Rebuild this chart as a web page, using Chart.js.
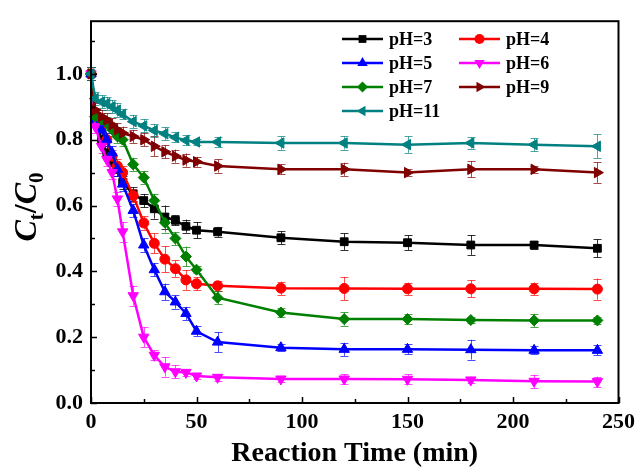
<!DOCTYPE html>
<html><head><meta charset="utf-8">
<script src="https://cdn.jsdelivr.net/npm/chart.js@4.4.0/dist/chart.umd.min.js"></script>
<style>html,body{margin:0;padding:0;background:#fff;} canvas{display:block;}</style>
</head><body>
<canvas id="c" width="641" height="468"></canvas>
<script>
// ---- data ----
const times = [0, 2, 5, 7.5, 10, 12.5, 15, 20, 25, 30, 35, 40, 45, 50, 60, 90, 120, 150, 180, 210, 240];
const seriesNames = ['pH=3', 'pH=4', 'pH=5', 'pH=6', 'pH=7', 'pH=9', 'pH=11'];
const pH3  = [1.0, 0.87, 0.80, 0.76, 0.73, 0.71, 0.67, 0.635, 0.615, 0.59, 0.565, 0.555, 0.537, 0.525, 0.52, 0.502, 0.49, 0.487, 0.48, 0.48, 0.47];
const pH4  = [1.0, 0.87, 0.84, 0.80, 0.75, 0.72, 0.70, 0.63, 0.547, 0.485, 0.437, 0.408, 0.374, 0.362, 0.356, 0.349, 0.348, 0.347, 0.347, 0.347, 0.346];
const pH5  = [1.0, 0.86, 0.83, 0.80, 0.76, 0.71, 0.665, 0.585, 0.48, 0.405, 0.338, 0.307, 0.272, 0.218, 0.185, 0.168, 0.163, 0.163, 0.162, 0.16, 0.16];
const pH6  = [1.0, 0.84, 0.78, 0.74, 0.70, 0.62, 0.52, 0.326, 0.20, 0.145, 0.11, 0.095, 0.093, 0.082, 0.078, 0.073, 0.073, 0.072, 0.07, 0.066, 0.065];
const pH7  = [1.0, 0.87, 0.86, 0.85, 0.83, 0.81, 0.80, 0.725, 0.685, 0.615, 0.548, 0.50, 0.445, 0.405, 0.32, 0.275, 0.255, 0.255, 0.252, 0.251, 0.251];
const pH9  = [1.0, 0.89, 0.87, 0.86, 0.845, 0.83, 0.82, 0.81, 0.80, 0.78, 0.763, 0.75, 0.738, 0.733, 0.72, 0.71, 0.71, 0.70, 0.71, 0.71, 0.70];
const pH11 = [1.0, 0.925, 0.915, 0.91, 0.90, 0.89, 0.877, 0.855, 0.842, 0.828, 0.818, 0.807, 0.798, 0.793, 0.793, 0.79, 0.79, 0.785, 0.79, 0.785, 0.78];
// error bars (±)
const err3  = [0.02, 0.02, 0.02, 0.02, 0.02, 0.02, 0.02, 0.02, 0.02, 0.03, 0.035, 0.015, 0.02, 0.025, 0.015, 0.02, 0.025, 0.022, 0.03, 0.012, 0.027];
const err4  = [0.02, 0.02, 0.02, 0.02, 0.02, 0.02, 0.02, 0.02, 0.02, 0.03, 0.04, 0.025, 0.03, 0.02, 0.015, 0.02, 0.035, 0.019, 0.026, 0.019, 0.032];
const err5  = [0.02, 0.02, 0.02, 0.02, 0.02, 0.02, 0.02, 0.02, 0.02, 0.02, 0.025, 0.02, 0.02, 0.015, 0.03, 0.01, 0.02, 0.015, 0.03, 0.012, 0.015];
const err6  = [0.02, 0.02, 0.02, 0.02, 0.02, 0.02, 0.03, 0.03, 0.03, 0.015, 0.03, 0.02, 0.01, 0.01, 0.01, 0.01, 0.015, 0.015, 0.01, 0.02, 0.015];
const err7  = [0.02, 0.02, 0.02, 0.02, 0.02, 0.02, 0.02, 0.02, 0.02, 0.02, 0.03, 0.02, 0.03, 0.01, 0.02, 0.015, 0.02, 0.015, 0.01, 0.02, 0.01];
const err9  = [0.02, 0.02, 0.02, 0.02, 0.02, 0.02, 0.02, 0.02, 0.02, 0.03, 0.02, 0.02, 0.02, 0.015, 0.02, 0.015, 0.02, 0.01, 0.024, 0.01, 0.031];
const err11 = [0.02, 0.02, 0.02, 0.02, 0.02, 0.02, 0.015, 0.02, 0.02, 0.02, 0.02, 0.015, 0.015, 0.01, 0.015, 0.02, 0.02, 0.025, 0.017, 0.02, 0.036];
const xTicks = [0, 50, 100, 150, 200, 250];
const yTicks = [0.0, 0.2, 0.4, 0.6, 0.8, 1.0];

const seriesValues = [pH3, pH4, pH5, pH6, pH7, pH9, pH11];
const seriesErrors = [err3, err4, err5, err6, err7, err9, err11];
const colors = ['#000000', '#FF0000', '#0000FF', '#FF00FF', '#008000', '#800000', '#008080'];
const errColors = ['rgba(0,0,0,0.8)', 'rgba(255,0,0,0.7)', 'rgba(0,0,255,0.7)', 'rgba(255,0,255,0.7)', 'rgba(0,128,0,0.7)', 'rgba(128,0,0,0.7)', 'rgba(0,128,128,0.7)'];
const styles = [
  {s: 'rect', r: 0, rad: 5.5},
  {s: 'circle', r: 0, rad: 5},
  {s: 'triangle', r: 0, rad: 6},
  {s: 'triangle', r: 180, rad: 6},
  {s: 'rectRot', r: 0, rad: 5.5},
  {s: 'triangle', r: 90, rad: 6},
  {s: 'triangle', r: 270, rad: 6}
];

const FONT = '"Liberation Serif", "Times New Roman", serif';

const datasets = seriesNames.map((n, i) => ({
  label: n,
  data: times.map((t, k) => ({x: t, y: seriesValues[i][k]})),
  borderColor: colors[i],
  backgroundColor: colors[i],
  borderWidth: 2.5,
  pointStyle: styles[i].s,
  rotation: styles[i].r,
  pointRadius: styles[i].rad,
  pointBorderWidth: 1,
  tension: 0,
  clip: false,
  order: 7 - i
}));

function markerPath(ctx, style, rot, x, y, r) {
  ctx.save();
  ctx.translate(x, y);
  ctx.rotate(rot * Math.PI / 180);
  ctx.beginPath();
  if (style === 'circle') {
    ctx.arc(0, 0, r, 0, Math.PI * 2);
  } else if (style === 'rect') {
    const s = Math.SQRT1_2 * r;
    ctx.rect(-s, -s, 2 * s, 2 * s);
  } else if (style === 'rectRot') {
    ctx.moveTo(0, -r); ctx.lineTo(r, 0); ctx.lineTo(0, r); ctx.lineTo(-r, 0); ctx.closePath();
  } else {
    const w = r * Math.sqrt(3);
    ctx.moveTo(0, -r); ctx.lineTo(w / 2, r / 2); ctx.lineTo(-w / 2, r / 2); ctx.closePath();
  }
  ctx.fill();
  ctx.restore();
}

const decor = {
  id: 'decor',
  beforeDatasetsDraw(chart) {
    const {ctx} = chart;
    const xs = chart.scales.x, ys = chart.scales.y;
    ctx.save();
    ctx.lineWidth = 1;
    seriesValues.forEach((vals, i) => {
      ctx.strokeStyle = errColors[i];
      vals.forEach((v, k) => {
        const x = Math.round(xs.getPixelForValue(times[k])) + 0.5;
        const y1 = ys.getPixelForValue(v + seriesErrors[i][k]);
        const y2 = ys.getPixelForValue(v - seriesErrors[i][k]);
        ctx.beginPath();
        ctx.moveTo(x, y1); ctx.lineTo(x, y2);
        ctx.moveTo(x - 4, Math.round(y1) + 0.5); ctx.lineTo(x + 4, Math.round(y1) + 0.5);
        ctx.moveTo(x - 4, Math.round(y2) + 0.5); ctx.lineTo(x + 4, Math.round(y2) + 0.5);
        ctx.stroke();
      });
    });
    ctx.restore();
  },
  afterDraw(chart) {
    const {ctx, chartArea: a} = chart;
    const xs = chart.scales.x, ys = chart.scales.y;
    ctx.save();
    // frame
    ctx.strokeStyle = '#000';
    ctx.lineWidth = 2;
    ctx.strokeRect(a.left, a.top, a.right - a.left, a.bottom - a.top);
    // inward ticks
    ctx.lineWidth = 1.5;
    ctx.beginPath();
    for (let t = 0; t <= 250; t += 25) {
      const x = Math.round(xs.getPixelForValue(t)) + 0.5;
      const len = (t % 50 === 0) ? 6 : 4;
      ctx.moveTo(x, a.bottom); ctx.lineTo(x, a.bottom - len);
    }
    for (let k = 0; k <= 11; k++) {
      const v = k / 10;
      const y = Math.round(ys.getPixelForValue(v)) + 0.5;
      const len = (k % 2 === 0) ? 6 : 4;
      ctx.moveTo(a.left, y); ctx.lineTo(a.left + len, y);
    }
    ctx.stroke();

    // legend
    const colX = [342, 459];
    const rowY = [39, 63, 87, 111];
    ctx.font = 'bold 18px ' + FONT;
    ctx.textBaseline = 'middle';
    ctx.textAlign = 'left';
    seriesNames.forEach((n, i) => {
      const x0 = colX[i % 2], y0 = rowY[Math.floor(i / 2)];
      ctx.strokeStyle = colors[i];
      ctx.fillStyle = colors[i];
      ctx.lineWidth = 2.5;
      ctx.beginPath(); ctx.moveTo(x0, y0); ctx.lineTo(x0 + 41, y0); ctx.stroke();
      markerPath(ctx, styles[i].s, styles[i].r, x0 + 20.5, y0, styles[i].rad);
      ctx.fillStyle = '#000';
      ctx.fillText(n, x0 + 47, y0 + 1);
    });

    // y title  C_t / C_0
    ctx.translate(36, 207);
    ctx.rotate(-Math.PI / 2);
    ctx.fillStyle = '#000';
    ctx.textBaseline = 'alphabetic';
    const big = 'italic bold 32px ' + FONT, bigUp = 'bold 32px ' + FONT, small = 'bold 21px ' + FONT;
    const parts = [[big, 'C', 0], [small, 't', 7], [bigUp, '/', 0], [big, 'C', 0], [small, '0', 7]];
    let total = 0;
    parts.forEach(p => { ctx.font = p[0]; total += ctx.measureText(p[1]).width; });
    let x = -total / 2;
    parts.forEach(p => { ctx.font = p[0]; ctx.fillText(p[1], x, p[2]); x += ctx.measureText(p[1]).width; });
    ctx.restore();
  }
};

new Chart(document.getElementById('c'), {
  type: 'line',
  data: {datasets},
  options: {
    responsive: false,
    animation: false,
    layout: {padding: {top: 12, right: 18, left: 0, bottom: 0}},
    plugins: {legend: {display: false}, tooltip: {enabled: false}},
    scales: {
      x: {
        type: 'linear', min: 0, max: 250,
        grid: {display: false, drawTicks: false},
        border: {display: false},
        afterFit(s) { s.height = 65; },
        afterBuildTicks(s) { s.ticks = xTicks.map(v => ({value: v})); },
        ticks: {color: '#000', font: {family: FONT, size: 22, weight: 'bold'}, padding: 6, maxRotation: 0,
          callback: v => String(v)},
        title: {display: true, text: 'Reaction Time (min)', color: '#000',
          font: {family: FONT, size: 28, weight: 'bold', lineHeight: 1}, padding: {top: 0, bottom: 0}}
      },
      y: {
        type: 'linear', min: 0, max: 1.16,
        grid: {display: false, drawTicks: false},
        border: {display: false},
        afterFit(s) { s.width = 91; },
        afterBuildTicks(s) { s.ticks = yTicks.map(v => ({value: v})); },
        ticks: {color: '#000', font: {family: FONT, size: 22, weight: 'bold'}, padding: 8,
          callback: v => Number(v).toFixed(1)}
      }
    }
  },
  plugins: [decor]
});
</script>
</body></html>
